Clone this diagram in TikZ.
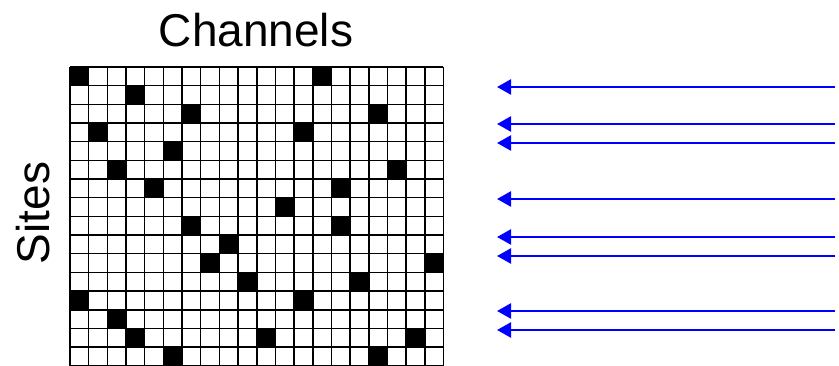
\documentclass[tikz,border=0pt]{standalone}
\usepackage{fontspec}
\setmainfont{Liberation Sans}
\usepackage{tikz}
\usetikzlibrary{positioning}
\usetikzlibrary{arrows.meta}

\tikzset{
    gridline/.style={line width=1.6pt, black},
    hitcell/.style={fill=black},
    beam/.style={blue, line width=2.4pt, -{Triangle[length=14pt, width=15pt]}},
    bigtext/.style={font=\fontsize{46}{50}\selectfont, inner sep=0pt},
}

\begin{document}
\begin{tikzpicture}[x=1pt, y=-1pt]
    \useasboundingbox (0,0) rectangle (839,366);

    % occupancy grid: 20 channels x 16 sites
    \begin{scope}[shift={(70,67)}, x=18.67pt, y=-18.67pt]
        \foreach \r/\c in {0/0, 0/13, 1/3, 2/6, 2/16, 3/1, 3/12, 4/5, 5/2, 5/17,
                           6/4, 6/14, 7/11, 8/6, 8/14, 9/8, 10/7, 10/19,
                           11/9, 11/15, 12/0, 12/12, 13/2, 14/3, 14/10, 14/18,
                           15/5, 15/16} {
            \fill[hitcell] (\c,\r) rectangle ++(1,1);
        }
        \foreach \c in {0,...,20} \draw[gridline] (\c,0) -- (\c,16);
        \foreach \r in {0,...,16} \draw[gridline] (0,\r) -- (20,\r);
    \end{scope}

    \node[bigtext, anchor=base] (channels) at (256,47) {Channels};
    \node[bigtext, rotate=90, anchor=base] (sites) at (49,213) {Sites};

    % incoming beams
    \foreach \i/\y in {1/87, 2/124, 3/143, 4/199, 5/237, 6/256, 7/311, 8/330} {
        \coordinate (src\i) at (835,\y);
        \coordinate (dst\i) at (497,\y);
        \draw[beam] (src\i) -- (dst\i);
    }
\end{tikzpicture}
\end{document}
